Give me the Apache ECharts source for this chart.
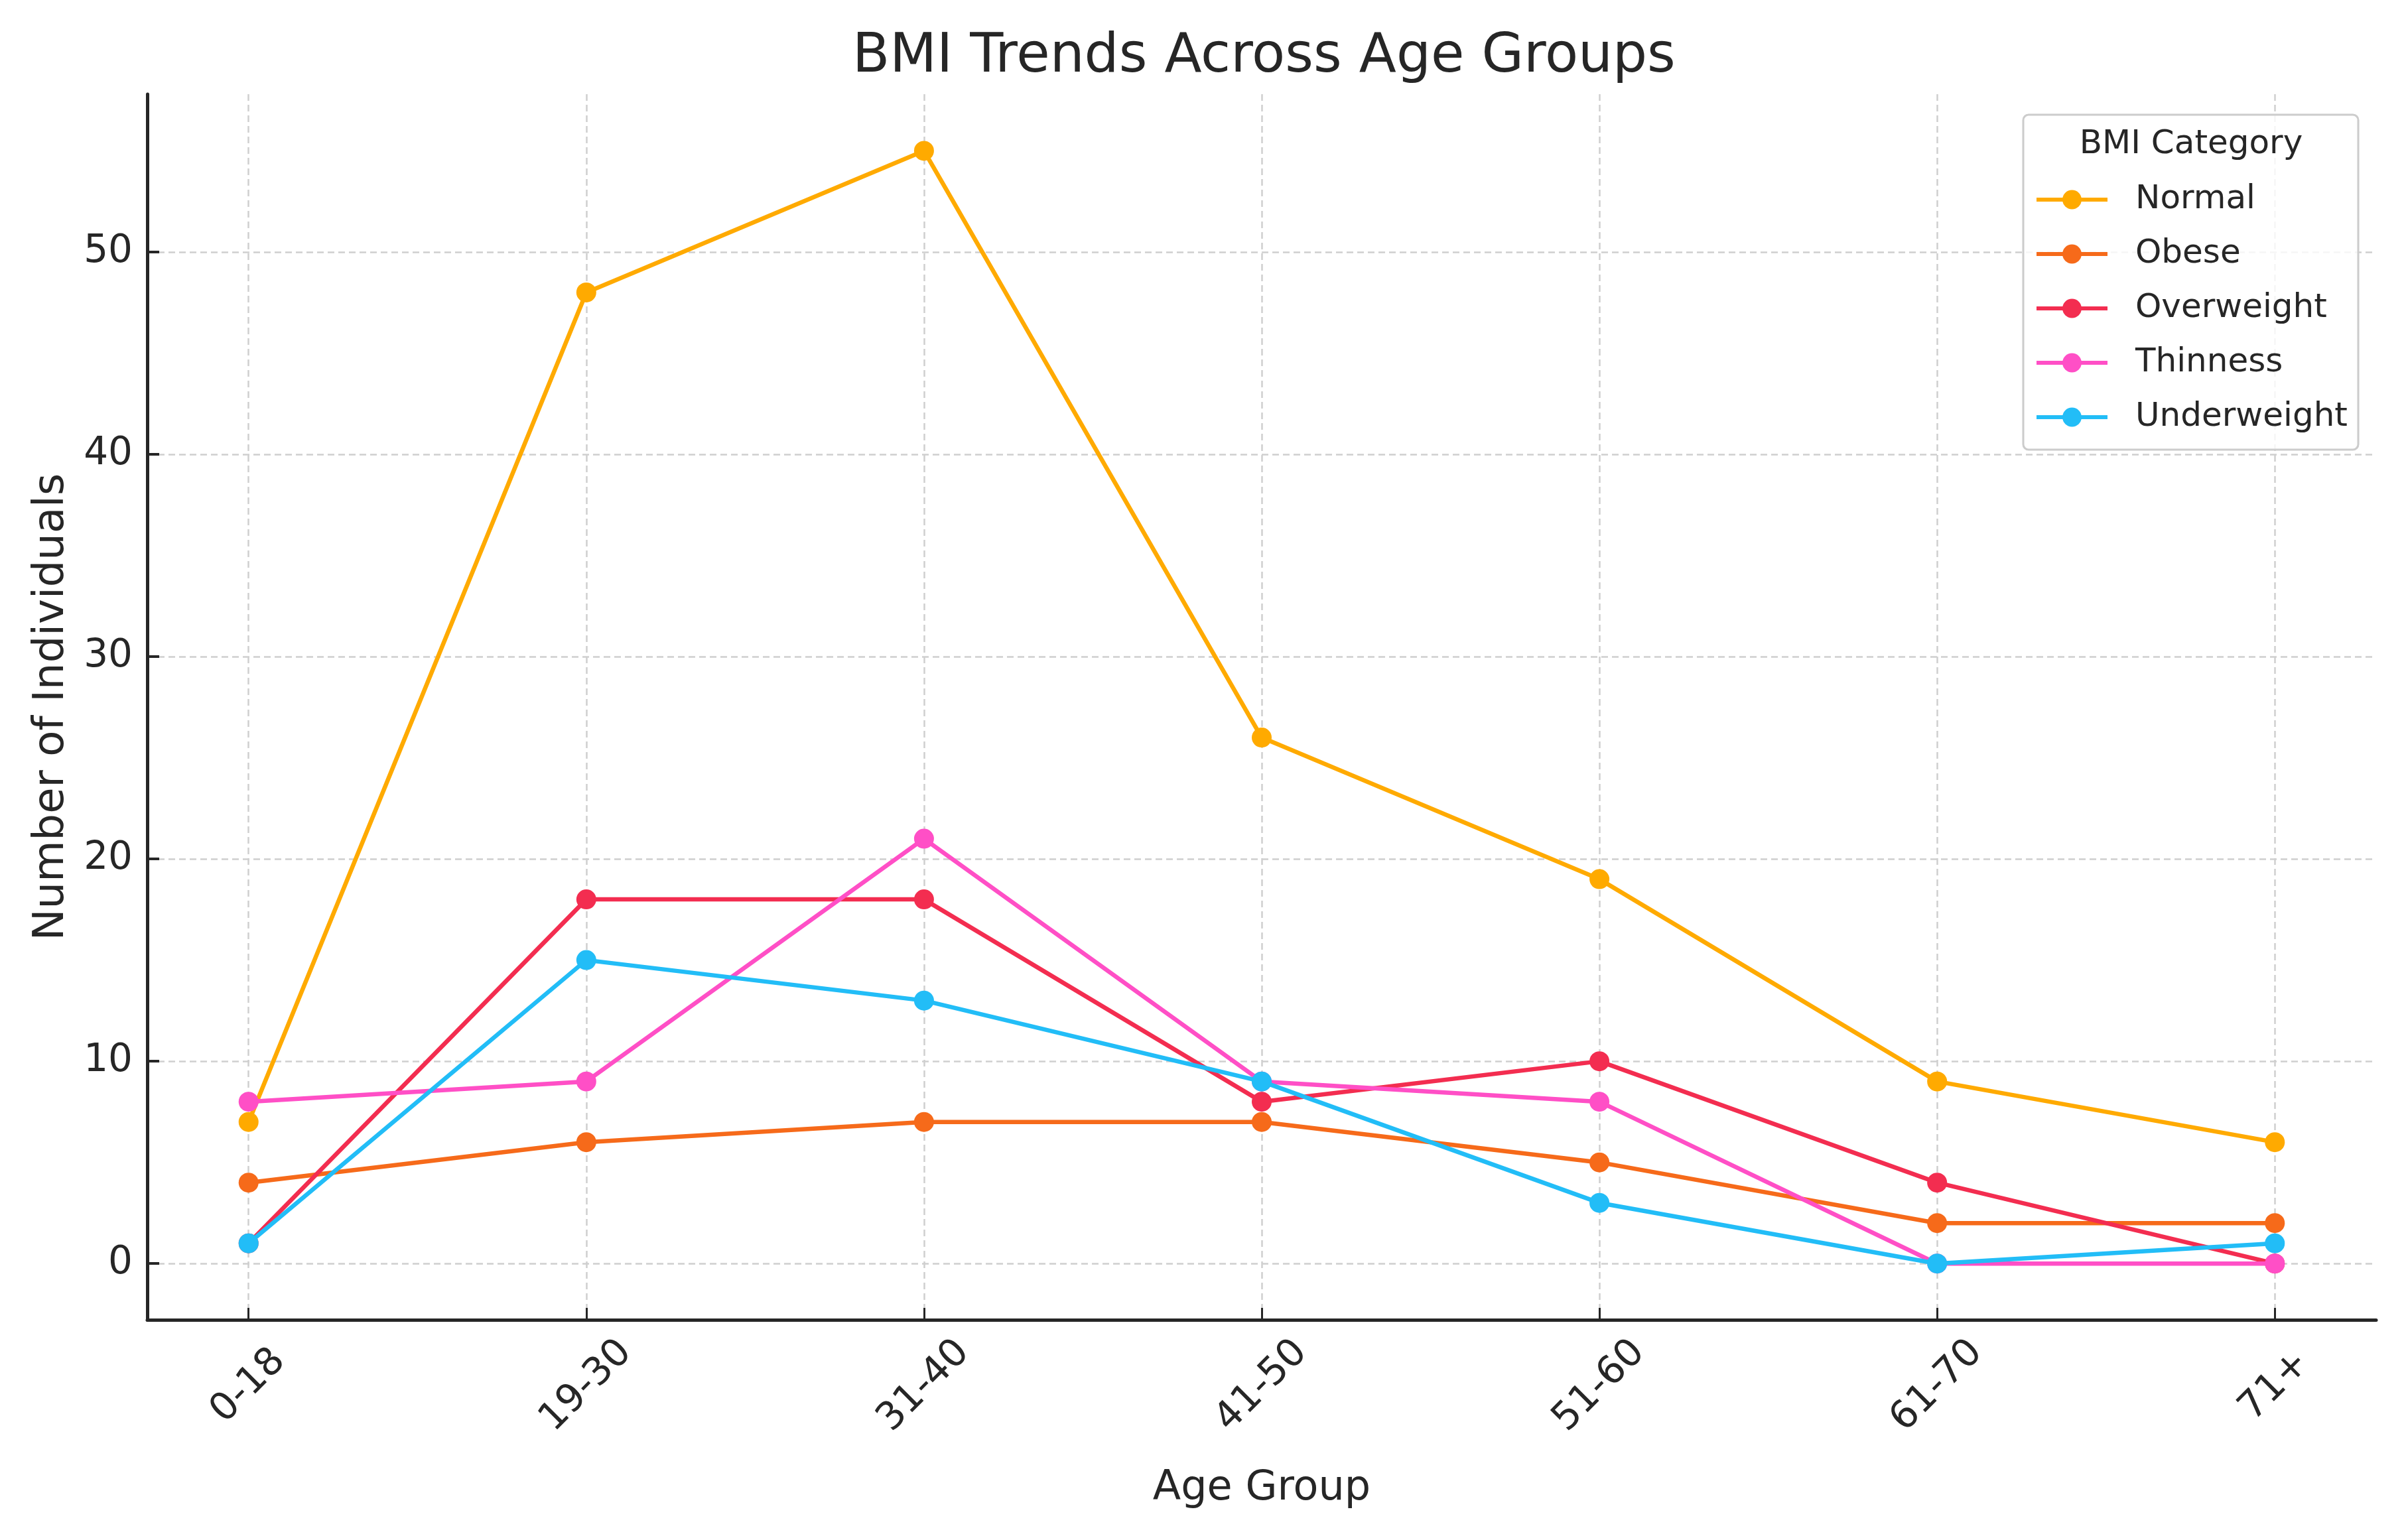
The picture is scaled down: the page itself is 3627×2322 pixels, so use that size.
<!DOCTYPE html>
<html>
<head>
<meta charset="utf-8">
<script src="https://cdn.jsdelivr.net/npm/echarts@6/dist/echarts.min.js"></script>
<style>
html,body{margin:0;padding:0;background:#fff;}
#chart{width:3627px;height:2322px;}
</style>
</head>
<body>
<div id="chart"></div>
<script>
const ageGroups = ['0-18', '19-30', '31-40', '41-50', '51-60', '61-70', '71+'];
const normal      = [7, 48, 55, 26, 19, 9, 6];
const obese       = [4, 6, 7, 7, 5, 2, 2];
const overweight  = [1, 18, 18, 8, 10, 4, 0];
const thinness    = [8, 9, 21, 9, 8, 0, 0];
const underweight = [1, 15, 13, 9, 3, 0, 1];
const seriesNames = ['Normal', 'Obese', 'Overweight', 'Thinness', 'Underweight'];
const yTicks = [0, 10, 20, 30, 40, 50];

const colors = ['#FFAA00', '#F66A1A', '#F32D50', '#FF4FC6', '#22BDF7'];
const FONT = 'DejaVu Sans';
const TXT = '#262626';

const seriesData = [normal, obese, overweight, thinness, underweight];
const xIdx = ageGroups.map((_, i) => i);

const chart = echarts.init(document.getElementById('chart'), null, {renderer: 'canvas'});
chart.setOption({
  animation: false,
  backgroundColor: '#ffffff',
  title: {
    text: 'BMI Trends Across Age Groups',
    left: 1285,
    top: 46,
    padding: 0,
    textStyle: {fontFamily: FONT, fontSize: 82, fontWeight: 'normal', color: TXT}
  },
  grid: {left: 222, right: 45, top: 142, bottom: 332, containLabel: false},
  xAxis: {
    type: 'value',
    min: -0.3,
    max: 6.3,
    name: 'Age Group',
    nameLocation: 'middle',
    nameGap: 224,
    nameTextStyle: {fontFamily: FONT, fontSize: 62, color: TXT},
    axisLine: {show: true, onZero: false, lineStyle: {color: TXT, width: 5}},
    axisTick: {show: true, inside: true, length: 18, lineStyle: {color: TXT, width: 3}, customValues: xIdx},
    axisLabel: {
      customValues: xIdx,
      rotate: 45,
      align: 'center',
      verticalAlign: 'middle',
      margin: 100,
      fontFamily: FONT, fontSize: 58, color: TXT,
      formatter: v => ageGroups[Math.round(v)]
    },
    splitLine: {show: true, lineStyle: {color: '#cfcfcf', width: 2.5, type: [10, 6]}}
  },
  yAxis: {
    type: 'value',
    min: -2.78,
    max: 57.8,
    name: 'Number of Individuals',
    nameLocation: 'middle',
    nameGap: 112,
    nameTextStyle: {fontFamily: FONT, fontSize: 64, color: TXT},
    axisLine: {show: true, onZero: false, lineStyle: {color: TXT, width: 5}},
    axisTick: {show: true, inside: true, length: 18, lineStyle: {color: TXT, width: 4}, customValues: yTicks},
    axisLabel: {customValues: yTicks, margin: 22, fontFamily: FONT, fontSize: 58, color: TXT},
    splitLine: {show: true, lineStyle: {color: '#cfcfcf', width: 2.5, type: [10, 6]}}
  },
  legend: {
    orient: 'vertical',
    left: 3067,
    top: 273,
    z: 20,
    itemWidth: 107,
    itemHeight: 36,
    itemGap: 26,
    padding: 0,
    data: seriesNames,
    lineStyle: {width: 6},
    textStyle: {fontFamily: FONT, fontSize: 50, color: TXT, lineHeight: 56, padding: [0, 0, 0, 37]}
  },
  graphic: [
    {type: 'rect', z: 15, shape: {x: 3050, y: 173, width: 505, height: 505, r: 8},
     style: {fill: 'rgba(255,255,255,0.8)', stroke: '#cccccc', lineWidth: 3}},
    {type: 'text', z: 21, x: 3303, y: 218,
     style: {text: 'BMI Category', fontFamily: FONT, fontSize: 50, fill: TXT, align: 'center', verticalAlign: 'middle'}}
  ],
  series: seriesNames.map((name, k) => ({
    name: name,
    type: 'line',
    data: seriesData[k].map((v, i) => [i, v]),
    color: colors[k],
    symbol: 'circle',
    symbolSize: 30,
    lineStyle: {width: 6.5, color: colors[k]},
    itemStyle: {color: colors[k]},
    z: 3 + k
  }))
});
</script>
</body>
</html>
